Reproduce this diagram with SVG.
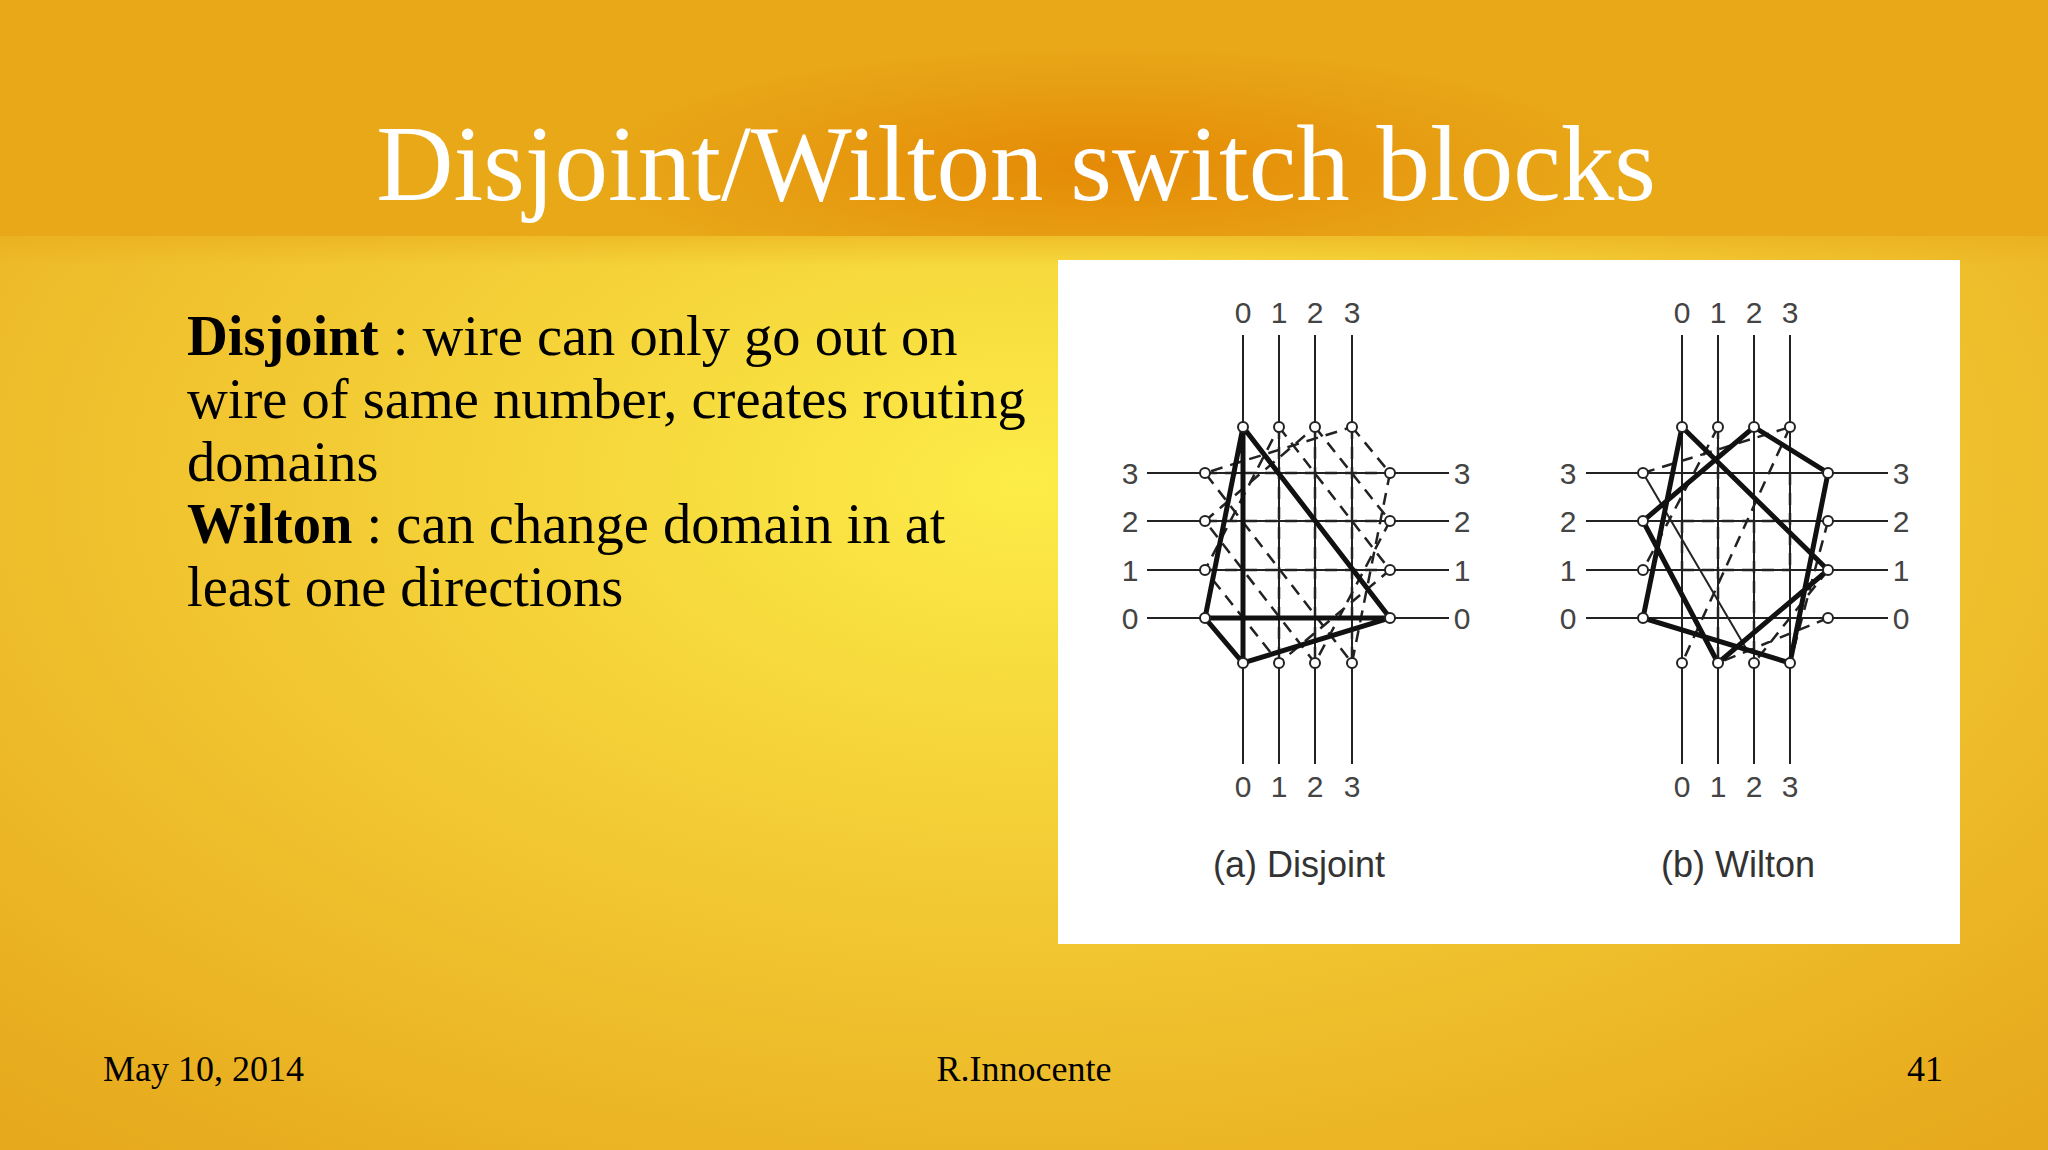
<svg xmlns="http://www.w3.org/2000/svg" width="2048" height="1150" viewBox="0 0 2048 1150">
<defs>
<radialGradient id="bg" cx="0.5" cy="0.42" r="0.75">
<stop offset="0" stop-color="#fcec48"/><stop offset="0.5" stop-color="#f2c832"/><stop offset="1" stop-color="#e6a81c"/>
</radialGradient>
<radialGradient id="top" cx="0.54" cy="0.7" r="0.5" gradientTransform="translate(0.27,0) scale(0.5,1)">
<stop offset="0" stop-color="#e58a06"/><stop offset="1" stop-color="#e8a818"/>
</radialGradient>
<linearGradient id="fade" x1="0" y1="0" x2="0" y2="1">
<stop offset="0" stop-color="#e8a818" stop-opacity="0.5"/><stop offset="1" stop-color="#e8a818" stop-opacity="0"/>
</linearGradient>
<style>
.w{stroke:#222;stroke-width:2;fill:none}
.k{stroke:#111;stroke-width:5;fill:none;stroke-linecap:round}
.d{stroke:#222;stroke-width:2.5;fill:none;stroke-dasharray:12 8}
.p{fill:#fff;stroke:#222;stroke-width:2}
.l{font-family:"Liberation Sans Narrow","Liberation Sans",sans-serif;font-size:30px;fill:#444;text-anchor:middle}
.t{font-family:"Liberation Serif",serif;font-size:56.5px;fill:#000}
.f{font-family:"Liberation Serif",serif;font-size:36px;fill:#000}
</style>
</defs>
<rect width="2048" height="1150" fill="url(#bg)"/>
<rect width="2048" height="236" fill="url(#top)"/>
<rect y="236" width="2048" height="30" fill="url(#fade)"/>
<text x="1016" y="200" font-family="Liberation Serif,serif" font-size="107" fill="#fff" text-anchor="middle">Disjoint/Wilton switch blocks</text>
<g id="body" class="t">
<text x="187" y="355"><tspan font-weight="bold">Disjoint</tspan> : wire can only go out on</text>
<text x="187" y="418">wire of same number, creates routing</text>
<text x="187" y="481">domains</text>
<text x="187" y="543"><tspan font-weight="bold">Wilton</tspan> : can change domain in at</text>
<text x="187" y="606">least one directions</text>
</g>
<rect id="panel" x="1058" y="260" width="902" height="684" fill="#fff"/>
<g id="disjoint">
<g class="w">
<path d="M1243 335V764M1279 335V764M1315 335V764M1352 335V764M1147 473H1449M1147 521H1449M1147 570H1449M1147 618H1449"/>
</g>
<g class="d">
<path d="M1279 427L1390 570L1279 663L1205 570Z M1279 427V663 M1205 570H1390"/>
<path d="M1315 427L1390 521L1315 663L1205 521Z M1315 427V663 M1205 521H1390"/>
<path d="M1352 427L1390 473L1352 663L1205 473Z M1352 427V663 M1205 473H1390"/>
</g>
<path class="k" d="M1243 427L1390 618L1243 663L1205 618L1243 427V663M1205 618H1390"/>
<g class="p">
<circle cx="1243" cy="427" r="5"/><circle cx="1279" cy="427" r="5"/><circle cx="1315" cy="427" r="5"/><circle cx="1352" cy="427" r="5"/>
<circle cx="1243" cy="663" r="5"/><circle cx="1279" cy="663" r="5"/><circle cx="1315" cy="663" r="5"/><circle cx="1352" cy="663" r="5"/>
<circle cx="1205" cy="473" r="5"/><circle cx="1205" cy="521" r="5"/><circle cx="1205" cy="570" r="5"/><circle cx="1205" cy="618" r="5"/>
<circle cx="1390" cy="473" r="5"/><circle cx="1390" cy="521" r="5"/><circle cx="1390" cy="570" r="5"/><circle cx="1390" cy="618" r="5"/>
</g>
<g class="l">
<text x="1243" y="323">0</text><text x="1279" y="323">1</text><text x="1315" y="323">2</text><text x="1352" y="323">3</text>
<text x="1243" y="797">0</text><text x="1279" y="797">1</text><text x="1315" y="797">2</text><text x="1352" y="797">3</text>
<text x="1130" y="484">3</text><text x="1130" y="532">2</text><text x="1130" y="581">1</text><text x="1130" y="629">0</text>
<text x="1462" y="484">3</text><text x="1462" y="532">2</text><text x="1462" y="581">1</text><text x="1462" y="629">0</text>
<text x="1299" y="877" font-size="36" fill="#333">(a) Disjoint</text>
</g>
</g>
<g id="wilton">
<g class="w">
<path d="M1682 335V764M1718 335V764M1754 335V764M1790 335V764M1586 473H1888M1586 521H1888M1586 570H1888M1586 618H1888"/>
<path d="M1643 473L1747 650"/>
</g>
<g class="d">
<path d="M1718 427L1643 570M1790 427L1682 663M1828 618L1718 663M1828 521L1790 663M1682 521H1790M1682 570H1790M1718 427V663M1754 521V663M1682 521V570M1790 473V570M1643 473L1790 427M1828 570L1754 663"/>
</g>
<path class="k" d="M1682 427L1828 570L1718 663L1643 521L1754 427L1828 473L1790 663L1643 618L1682 427"/>
<g class="p">
<circle cx="1682" cy="427" r="5"/><circle cx="1718" cy="427" r="5"/><circle cx="1754" cy="427" r="5"/><circle cx="1790" cy="427" r="5"/>
<circle cx="1682" cy="663" r="5"/><circle cx="1718" cy="663" r="5"/><circle cx="1754" cy="663" r="5"/><circle cx="1790" cy="663" r="5"/>
<circle cx="1643" cy="473" r="5"/><circle cx="1643" cy="521" r="5"/><circle cx="1643" cy="570" r="5"/><circle cx="1643" cy="618" r="5"/>
<circle cx="1828" cy="473" r="5"/><circle cx="1828" cy="521" r="5"/><circle cx="1828" cy="570" r="5"/><circle cx="1828" cy="618" r="5"/>
</g>
<g class="l">
<text x="1682" y="323">0</text><text x="1718" y="323">1</text><text x="1754" y="323">2</text><text x="1790" y="323">3</text>
<text x="1682" y="797">0</text><text x="1718" y="797">1</text><text x="1754" y="797">2</text><text x="1790" y="797">3</text>
<text x="1568" y="484">3</text><text x="1568" y="532">2</text><text x="1568" y="581">1</text><text x="1568" y="629">0</text>
<text x="1901" y="484">3</text><text x="1901" y="532">2</text><text x="1901" y="581">1</text><text x="1901" y="629">0</text>
<text x="1738" y="877" font-size="36" fill="#333">(b) Wilton</text>
</g>
</g>
<g id="footer" class="f">
<text x="103" y="1081">May 10, 2014</text>
<text x="1024" y="1081" text-anchor="middle">R.Innocente</text>
<text x="1943" y="1081" text-anchor="end">41</text>
</g>
</svg>
